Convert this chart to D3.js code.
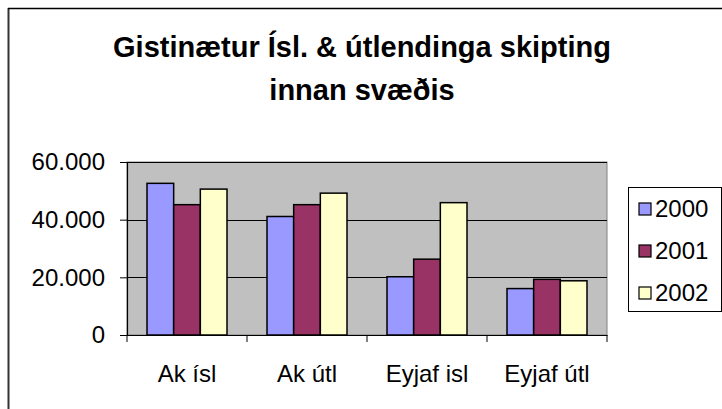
<!DOCTYPE html>
<html><head><meta charset="utf-8">
<script src="https://cdn.jsdelivr.net/npm/d3@7"></script>
<style>body{margin:0;background:#fff}svg{display:block}</style>
</head><body><svg id="c" width="722" height="409"></svg>
<script>
const categories = ["Ak ísl", "Ak útl", "Eyjaf isl", "Eyjaf útl"];
const seriesNames = ["2000", "2001", "2002"];
const values2000 = [52600, 41100, 20200, 16100];
const values2001 = [45200, 45200, 26300, 19300];
const values2002 = [50600, 49200, 45900, 18800];
const yTicks = [0, 20000, 40000, 60000];
const colors = ["#9999FF", "#993366", "#FFFFCC"];
const titleLines = ["Gistinætur Ísl. & útlendinga skipting", "innan svæðis"];

const series = [values2000, values2001, values2002];
const svg = d3.select("#c");
const font = "'Liberation Sans', Arial, sans-serif";

// outer chart border
svg.append("line").attr("x1", 8.5).attr("x2", 8.5).attr("y1", 8).attr("y2", 409).attr("stroke", "#333").attr("stroke-width", 2);
svg.append("line").attr("x1", 8).attr("x2", 722).attr("y1", 8.5).attr("y2", 8.5).attr("stroke", "#000").attr("stroke-width", 1.5);

const L = 127, R = 607, T = 162, B = 335;
const x = d3.scaleBand().domain(categories).range([L, R]).paddingInner(0).paddingOuter(0);
const y = d3.scaleLinear().domain([0, 60000]).range([B, T]);
const xs = d3.scaleBand().domain(seriesNames).range([0, x.bandwidth()]).paddingInner(0).paddingOuter(0.75);

svg.append("rect").attr("x", L).attr("y", T).attr("width", R - L).attr("height", B - T).attr("fill", "#C0C0C0").attr("stroke", "#808080").attr("stroke-width", 1);

// gridlines
svg.append("g").selectAll("line").data(yTicks.filter(d => d > 0)).join("line")
  .attr("x1", L).attr("x2", R).attr("y1", d => Math.round(y(d)) + 0.5).attr("y2", d => Math.round(y(d)) + 0.5)
  .attr("stroke", "#000").attr("stroke-width", 1);

// bars
const groups = svg.append("g").selectAll("g").data(categories).join("g")
  .attr("transform", d => `translate(${x(d)},0)`);
groups.selectAll("rect").data((c, i) => series.map((s, j) => ({ name: seriesNames[j], v: s[i], j })))
  .join("rect")
  .attr("x", d => xs(d.name)).attr("width", xs.bandwidth())
  .attr("y", d => y(d.v)).attr("height", d => B - y(d.v))
  .attr("fill", d => colors[d.j]).attr("stroke", "#000").attr("stroke-width", 1.5);

// y axis
const yAxis = d3.axisLeft(y).tickValues(yTicks).tickSize(7).tickPadding(15)
  .tickFormat(d => d3.format(",")(d).replace(/,/g, "."));
const ga = svg.append("g").attr("transform", `translate(${L},0)`).call(yAxis);
ga.select(".domain").attr("stroke", "#000").attr("stroke-width", 1.2);
ga.selectAll(".tick line").attr("stroke", "#000");
ga.selectAll("text").attr("font-family", font).attr("font-size", 24).attr("fill", "#000");

// x axis
const xAxis = d3.axisBottom(x).tickSize(0).tickPadding(30);
const gx = svg.append("g").attr("transform", `translate(0,${B})`).call(xAxis);
gx.select(".domain").attr("stroke", "#000").attr("stroke-width", 1.2);
gx.selectAll("text").attr("font-family", font).attr("font-size", 24).attr("fill", "#000");
// category boundary ticks
svg.append("g").selectAll("line").data(d3.range(categories.length + 1)).join("line")
  .attr("x1", i => L + i * x.bandwidth()).attr("x2", i => L + i * x.bandwidth())
  .attr("y1", B).attr("y2", B + 7).attr("stroke", "#000").attr("stroke-width", 1);

// title
svg.append("g").selectAll("text").data(titleLines).join("text")
  .attr("x", 362).attr("y", (d, i) => 57 + i * 43)
  .attr("text-anchor", "middle").attr("font-family", font).attr("font-weight", "bold")
  .attr("font-size", 29).attr("fill", "#000").text(d => d);

// legend
const lg = svg.append("g");
lg.append("rect").attr("x", 628.5).attr("y", 187.5).attr("width", 93).attr("height", 124)
  .attr("fill", "#fff").attr("stroke", "#000").attr("stroke-width", 1);
const li = lg.selectAll("g").data(seriesNames).join("g")
  .attr("transform", (d, i) => `translate(0,${209 + i * 42})`);
li.append("rect").attr("x", 639).attr("y", -6).attr("width", 12).attr("height", 12)
  .attr("fill", (d, i) => colors[i]).attr("stroke", "#000").attr("stroke-width", 1.2);
li.append("text").attr("x", 655).attr("y", 0).attr("dy", "0.35em")
  .attr("font-family", font).attr("font-size", 24).attr("fill", "#000").text(d => d);
</script></body></html>
